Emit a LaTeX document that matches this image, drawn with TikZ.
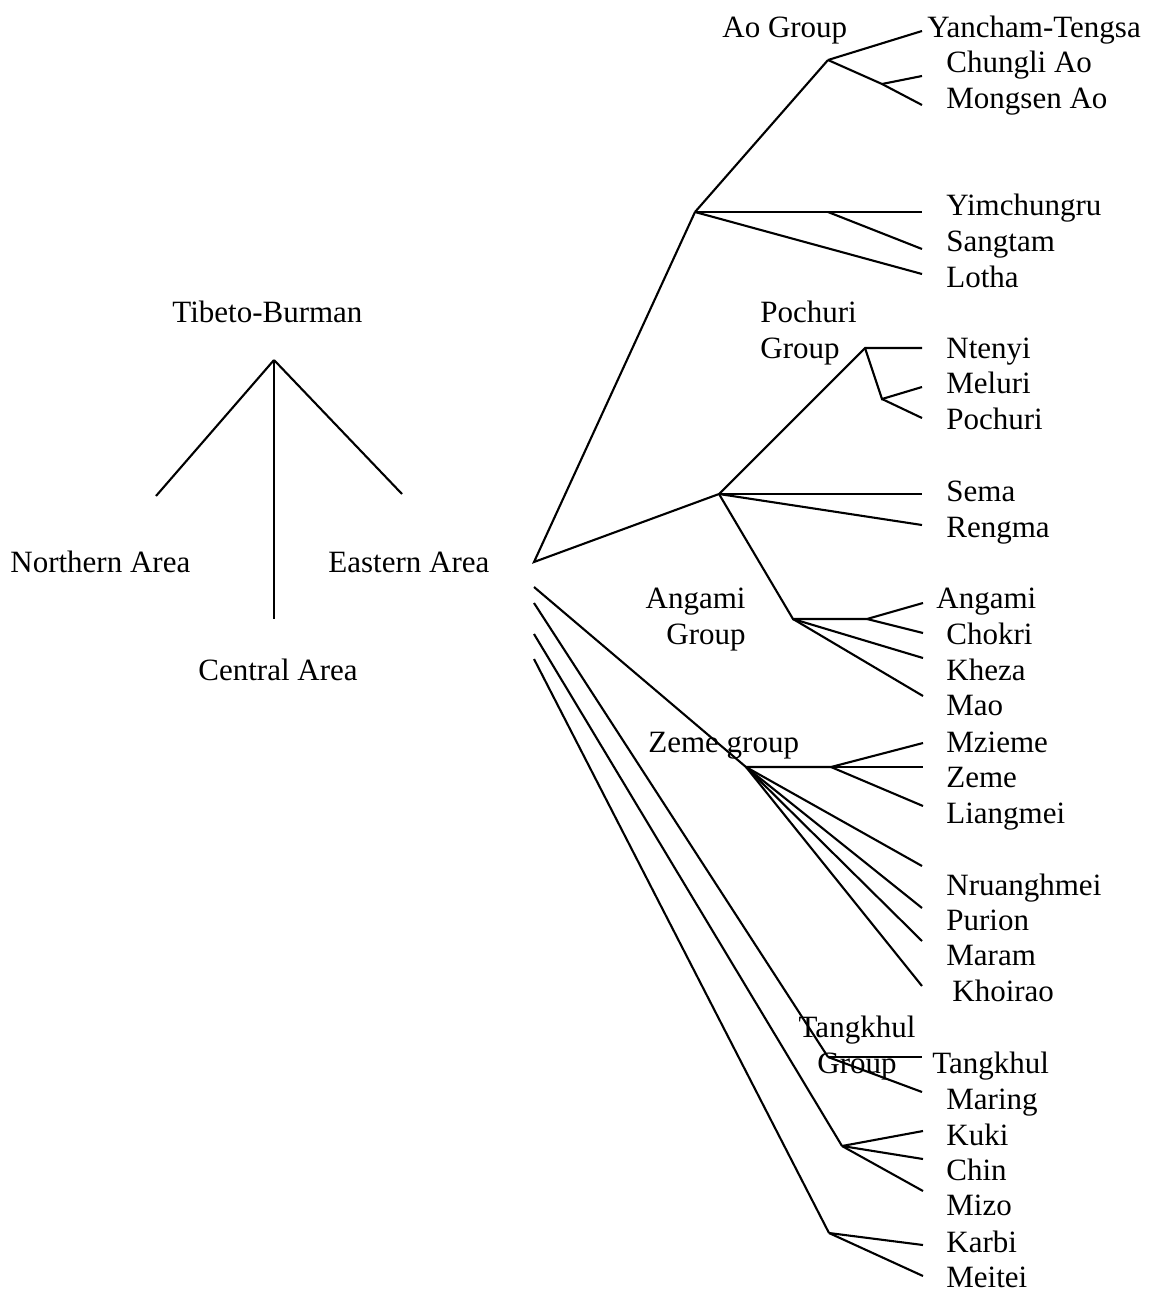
\documentclass[tikz,border=0pt]{standalone}
\usepackage{fontspec}
\setmainfont{Liberation Serif}
\usepackage{tikz}
\usetikzlibrary{positioning}

\begin{document}
\begin{tikzpicture}[
    x=0.5pt, y=-0.5pt,
    lbl/.style={anchor=base west, inner sep=0pt, font=\fontsize{15.5}{18}\selectfont},
    grp/.style={lbl, align=left},
    br/.style={draw=black, line width=1.05pt},
]
\useasboundingbox (0,0) rectangle (1152,1291);

% Top level
\node[lbl] (tb) at (172,322) {Tibeto-Burman};
\node[lbl] (north) at (10,572) {Northern Area};
\node[lbl] (east) at (328,572) {Eastern Area};
\node[lbl] (central) at (198,680) {Central Area};

\coordinate (tbv) at (274,360);
\coordinate (tbn) at (156,496);
\coordinate (tbc) at (274,619);
\coordinate (tbe) at (402,494);
\draw[br] (tbv) -- (tbn);
\draw[br] (tbv) -- (tbc);
\draw[br] (tbv) -- (tbe);

% Group labels (base = last line)
\node[lbl] (aogrp) at (722,37) {Ao Group};
\node[grp] (pogrp) at (760,358) {Pochuri\\Group};
\node[lbl, align=right, anchor=base east] (angrp) at (746,644) {Angami\\Group};
\node[lbl] (zegrp) at (648,752) {Zeme group};
\node[lbl, align=center, anchor=base] (tagrp) at (857,1073) {Tangkhul\\Group};

% Leaves
\node[lbl] (yancham) at (927,37) {Yancham-Tengsa};
\node[lbl] (chungli) at (946,72) {Chungli Ao};
\node[lbl] (mongsen) at (946,108) {Mongsen Ao};
\node[lbl] (yimch) at (946,215) {Yimchungru};
\node[lbl] (sangtam) at (946,251) {Sangtam};
\node[lbl] (lotha) at (946,287) {Lotha};
\node[lbl] (ntenyi) at (946,358) {Ntenyi};
\node[lbl] (meluri) at (946,393) {Meluri};
\node[lbl] (pochuri) at (946,429) {Pochuri};
\node[lbl] (sema) at (946,501) {Sema};
\node[lbl] (rengma) at (946,537) {Rengma};
\node[lbl] (angami) at (936,608) {Angami};
\node[lbl] (chokri) at (946,644) {Chokri};
\node[lbl] (kheza) at (946,680) {Kheza};
\node[lbl] (mao) at (946,715) {Mao};
\node[lbl] (mzieme) at (946,752) {Mzieme};
\node[lbl] (zeme) at (946,787) {Zeme};
\node[lbl] (liangmei) at (946,823) {Liangmei};
\node[lbl] (nruang) at (946,895) {Nruanghmei};
\node[lbl] (purion) at (946,930) {Purion};
\node[lbl] (maram) at (946,965) {Maram};
\node[lbl] (khoirao) at (952,1001) {Khoirao};
\node[lbl] (tangkhul) at (932,1073) {Tangkhul};
\node[lbl] (maring) at (946,1109) {Maring};
\node[lbl] (kuki) at (946,1145) {Kuki};
\node[lbl] (chin) at (946,1180) {Chin};
\node[lbl] (mizo) at (946,1215) {Mizo};
\node[lbl] (karbi) at (946,1252) {Karbi};
\node[lbl] (meitei) at (946,1287) {Meitei};

% Branch points
\coordinate (e1) at (534,562);
\coordinate (e2) at (534,587);
\coordinate (e3) at (534,603);
\coordinate (e4) at (534,634);
\coordinate (e5) at (534,659);
\coordinate (ao) at (695,212);
\coordinate (aog) at (828,60);
\coordinate (aosub) at (882,84);
\coordinate (ysub) at (828,212);
\coordinate (po) at (719,494);
\coordinate (pog) at (865,348);
\coordinate (posub) at (882,399);
\coordinate (ang) at (793,619);
\coordinate (angh) at (867,619);
\coordinate (zg) at (746,767);
\coordinate (zgh) at (831,767);
\coordinate (tg) at (828,1057);
\coordinate (kg) at (842,1146);
\coordinate (kb) at (829,1233);

% Line ends
\coordinate (xyancham) at (922,31);
\coordinate (xchungli) at (922,76);
\coordinate (xmongsen) at (922,105);
\coordinate (xyimch) at (922,212);
\coordinate (xsangtam) at (922,249);
\coordinate (xlotha) at (922,274);
\coordinate (xntenyi) at (922,348);
\coordinate (xmeluri) at (922,387);
\coordinate (xpochuri) at (922,418);
\coordinate (xsema) at (922,494);
\coordinate (xrengma) at (922,525);
\coordinate (xangami) at (923,603);
\coordinate (xchokri) at (923,633);
\coordinate (xkheza) at (923,658);
\coordinate (xmao) at (923,696);
\coordinate (xmzieme) at (923,743);
\coordinate (xzeme) at (923,767);
\coordinate (xliangmei) at (923,806);
\coordinate (xnruang) at (922,866);
\coordinate (xpurion) at (922,908);
\coordinate (xmaram) at (922,941);
\coordinate (xkhoirao) at (922,986);
\coordinate (xtangkhul) at (922,1057);
\coordinate (xmaring) at (922,1092);
\coordinate (xkuki) at (923,1131);
\coordinate (xchin) at (923,1159);
\coordinate (xmizo) at (923,1191);
\coordinate (xkarbi) at (923,1245);
\coordinate (xmeitei) at (923,1276);

% Eastern Area
\draw[br] (ao) -- (e1) -- (po);
\draw[br] (e2) -- (zg);
\draw[br] (e3) -- (tg);
\draw[br] (e4) -- (kg);
\draw[br] (e5) -- (kb);

% Ao group
\draw[br] (ao) -- (aog);
\draw[br] (aog) -- (xyancham);
\draw[br] (aog) -- (aosub) -- (xmongsen);
\draw[br] (aosub) -- (xchungli);
\draw[br] (ao) -- (ysub) -- (xyimch);
\draw[br] (ysub) -- (xsangtam);
\draw[br] (ao) -- (xlotha);

% Pochuri group
\draw[br] (po) -- (pog) -- (xntenyi);
\draw[br] (pog) -- (posub) -- (xmeluri);
\draw[br] (posub) -- (xpochuri);
\draw[br] (po) -- (xsema);
\draw[br] (po) -- (xrengma);

% Angami group
\draw[br] (po) -- (ang) -- (angh) -- (xangami);
\draw[br] (angh) -- (xchokri);
\draw[br] (ang) -- (xkheza);
\draw[br] (ang) -- (xmao);

% Zeme group
\draw[br] (zg) -- (zgh) -- (xmzieme);
\draw[br] (zgh) -- (xzeme);
\draw[br] (zgh) -- (xliangmei);
\draw[br] (zg) -- (xnruang);
\draw[br] (zg) -- (xpurion);
\draw[br] (zg) -- (xmaram);
\draw[br] (zg) -- (xkhoirao);

% Tangkhul group
\draw[br] (tg) -- (xtangkhul);
\draw[br] (tg) -- (xmaring);

% Kuki-Chin, Karbi, Meitei
\draw[br] (kg) -- (xkuki);
\draw[br] (kg) -- (xchin);
\draw[br] (kg) -- (xmizo);
\draw[br] (kb) -- (xkarbi);
\draw[br] (kb) -- (xmeitei);

\end{tikzpicture}
\end{document}
